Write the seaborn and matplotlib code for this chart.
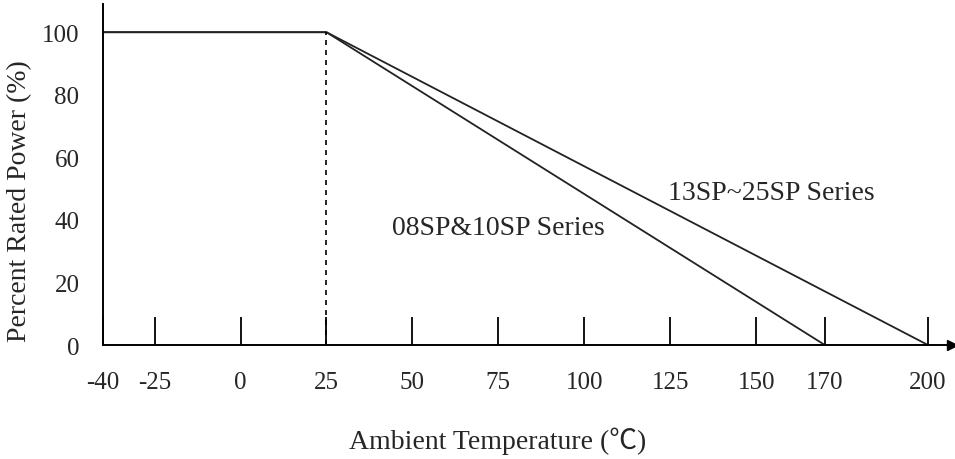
import pandas as pd
import seaborn as sns
import matplotlib.pyplot as plt

# Derating curve data
series_names = ['08SP&10SP Series', '13SP~25SP Series']
temp_08 = [-40, 25, 170]
power_08 = [100, 100, 0]
temp_13 = [-40, 25, 200]
power_13 = [100, 100, 0]
x_ticks = [-40, -25, 0, 25, 50, 75, 100, 125, 150, 170, 200]
y_ticks = [0, 20, 40, 60, 80, 100]
knee_temp = 25

df = pd.concat([
    pd.DataFrame({'Temp': temp_08, 'Power': power_08, 'Series': series_names[0]}),
    pd.DataFrame({'Temp': temp_13, 'Power': power_13, 'Series': series_names[1]}),
])

sns.set_style('white')
plt.rcParams['font.family'] = ['Liberation Serif', 'Noto Sans CJK SC', 'DejaVu Sans']
plt.rcParams['axes.unicode_minus'] = False

fig = plt.figure(figsize=(9.55, 4.6), dpi=100)
ax = fig.add_axes([0.1079, 0.2478, 0.889, 0.7412])

sns.lineplot(data=df, x='Temp', y='Power', hue='Series', palette=['#222222', '#222222'],
             linewidth=1.3, legend=False, ax=ax, sort=False)

# dashed line at the knee
ax.plot([knee_temp, knee_temp], [0, 100], color='black', linestyle=(0, (3, 3)), linewidth=1.2)

ax.set_xlim(-40, 207)
ax.set_ylim(0, 109)
ax.set_xticks(x_ticks)
ax.set_yticks(y_ticks)
ax.tick_params(axis='x', bottom=True, direction='in', length=20, width=1.3, pad=19,
               labelsize=18, color='black')
ax.tick_params(axis='y', left=False, length=0, pad=17, labelsize=18)

sns.despine(ax=ax)
for side in ['left', 'bottom']:
    ax.spines[side].set_color('black')
    ax.spines[side].set_linewidth(1.4)

# arrow at end of x axis
ax.plot(1, 0, '>k', markersize=7, transform=ax.get_yaxis_transform(), clip_on=False)

ax.set_xlabel('Ambient Temperature (℃)', fontsize=20)
ax.xaxis.label.set_va('center')
ax.xaxis.set_label_coords(0.465, -0.279)
ax.set_ylabel('Percent Rated Power (%)', fontsize=20)
ax.yaxis.label.set_va('center')
ax.yaxis.set_label_coords(-0.098, 0.425)

ax.text(44, 37.7, series_names[0], fontsize=20, va='center', ha='left')
ax.text(124.5, 48.9, series_names[1], fontsize=20, va='center', ha='left')

fig.savefig('out.png', dpi=100)
